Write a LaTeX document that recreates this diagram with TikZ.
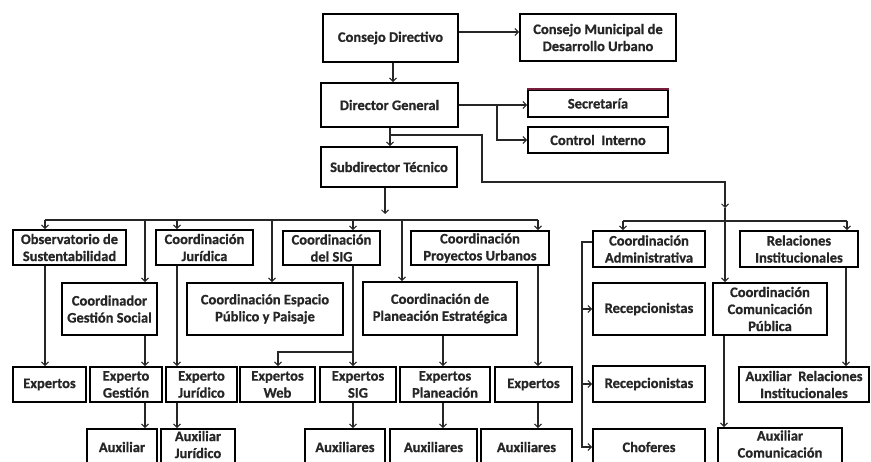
\documentclass[tikz,border=0pt]{standalone}
\usepackage{fontspec}
\setmainfont{Carlito}[BoldFeatures={FakeBold=0.8}]
\usetikzlibrary{arrows.meta}
\tikzset{
  box/.style={draw=black, line width=1.8pt, fill=white, align=center, inner sep=0pt,
    font=\bfseries\fontsize{14.5}{17}\selectfont, text=black!85},
  ln/.style={line width=1.2pt, draw=black!85},
  arr/.style={ln, -{Straight Barb[length=3.5pt,width=7pt,line width=1pt]}},
}
\newcommand{\obox}[6]{\node[box, minimum width={(#4-#2)*1pt}, minimum height={(#5-#3)*1pt}] (#1) at ({(#2+#4)/2},{(#3+#5)/2}) {#6};}
\newcommand{\vlink}[3]{\coordinate (vx) at (#1,0); \draw[arr] (#2.south -| vx) -- (#3.north -| vx);}
\newcommand{\lift}{\rule[-5pt]{0pt}{5pt}}
\begin{document}
\begin{tikzpicture}[x=1pt,y=-1pt]
\useasboundingbox (0,0) rectangle (871,462);
\clip (0,0) rectangle (871,462);
\fill[white] (0,0) rectangle (871,462);

% boxes
\obox{cd}{323}{14}{458}{62}{Consejo Directivo}
\obox{cm}{520}{14}{676}{61}{Consejo Municipal de\\Desarrollo Urbano}
\obox{dg}{321}{83}{458}{127}{Director General}
\obox{sec}{528}{90}{668}{117}{Secretaría}
\obox{ci}{528}{127}{668}{153}{Control\ \ Interno}
\obox{st}{321}{147}{457}{187}{Subdirector Técnico}
\obox{obs}{13}{230}{126}{265}{Observatorio de\\Sustentabilidad}
\obox{cj}{156}{230}{253}{265}{Coordinación\\Jurídica}
\obox{csig}{283}{231}{380}{265}{Coordinación\\del SIG}
\obox{cpu}{411}{231}{549}{265}{Coordinación\\Proyectos Urbanos}
\obox{cadm}{593}{231}{705}{267}{Coordinación\\Administrativa}
\obox{ri}{740}{231}{858}{267}{Relaciones\\Institucionales}
\obox{cgs}{62}{283}{157}{335}{Coordinador\\Gestión Social}
\obox{cep}{187}{283}{343}{335}{Coordinación Espacio\\Público y Paisaje}
\obox{cpe}{363}{282}{517}{335}{Coordinación de\\Planeación Estratégica}
\obox{rec1}{593}{283}{705}{335}{Recepcionistas}
\obox{ccp}{713}{283}{827}{335}{Coordinación\\Comunicación\\Pública}
\obox{exp1}{13}{367}{86}{402}{Expertos}
\obox{eg}{90}{367}{162}{402}{Experto\\Gestión}
\obox{ej}{166}{367}{237}{402}{Experto\\Jurídico}
\obox{ew}{240}{367}{315}{402}{Expertos\\Web}
\obox{esig}{320}{367}{396}{402}{Expertos\\SIG}
\obox{epl}{400}{367}{490}{402}{Expertos\\Planeación}
\obox{exp2}{495}{367}{572}{402}{Expertos}
\obox{rec2}{593}{366}{705}{402}{Recepcionistas}
\obox{ari}{739}{367}{869}{402}{Auxiliar\ \ Relaciones\\Institucionales}
\obox{aux}{87}{429}{157}{465}{Auxiliar}
\obox{auxj}{161}{429}{235}{465}{Auxiliar\\Jurídico\lift}
\obox{aux1}{305}{429}{385}{465}{Auxiliares}
\obox{aux2}{390}{429}{477}{465}{Auxiliares}
\obox{aux3}{481}{429}{572}{465}{Auxiliares}
\obox{chof}{593}{429}{705}{465}{Choferes}
\obox{auxc}{718}{428}{842}{465}{Auxiliar\\Comunicación\lift}

\draw[line width=1.8pt, draw={rgb,255:red,120;green,30;blue,60}] (sec.north west) -- (sec.north east);

% top connectors
\coordinate (cdm) at (0,32);
\draw[arr] (cd.east |- cdm) -- (cm.west |- cdm);
\vlink{393}{cd}{dg}
\vlink{390}{dg}{st}
\draw[arr] (dg.east) -- (sec.west |- dg.east);
\coordinate (sb) at (497,105);
\draw[arr] (sb) |- (ci.west);

% bus to the right group
\coordinate (bus1) at (390,135);
\coordinate (bus2) at (482,182);
\coordinate (bus3) at (725,208);
\draw[arr] (bus1) -| (bus2) -| (bus3);

% left bar
\coordinate (lbL) at (45,220);
\coordinate (lbR) at (538,220);
\coordinate (stx) at (385,0);
\coordinate (stend) at (385,214);
\draw[arr] (st.south -| stx) -- (stend);
\draw[ln] (lbL) -- (lbR);
\foreach \xx/\nn in {45/obs,145/cgs,177/cj,272/cep,353/csig,402/cpe,538/cpu}{
  \coordinate (tx) at (\xx,220);
  \draw[arr] (tx) -- (\nn.north -| tx);
}

% right bar
\coordinate (rbL) at (623,221);
\coordinate (rbR) at (847,221);
\draw[ln] (rbL) -- (rbR);
\foreach \xx/\nn in {623/cadm,725/ccp,847/ri}{
  \coordinate (tx) at (\xx,221);
  \draw[arr] (tx) -- (\nn.north -| tx);
}
\coordinate (rtop) at (725,208);
\draw[ln] (rtop) -- (725,221);

% vertical links
\vlink{45}{obs}{exp1}
\vlink{177}{cj}{ej}
\vlink{145}{cgs}{eg}
\vlink{145}{eg}{aux}
\vlink{177}{ej}{auxj}
\vlink{353}{csig}{esig}
\vlink{443}{cpe}{epl}
\vlink{538}{cpu}{exp2}
\vlink{353}{esig}{aux1}
\vlink{443}{epl}{aux2}
\vlink{538}{exp2}{aux3}
\vlink{724}{ccp}{auxc}
\vlink{846}{ri}{ari}

% SIG branch to Web
\coordinate (sg1) at (353,352);
\coordinate (sg2) at (278,0);
\draw[arr] (sg1) -| (ew.north -| sg2);

% administrative side line
\coordinate (ca) at (582,242);
\draw[arr] (cadm.west |- ca) -- (ca) |- (chof.west);
\draw[arr] (ca |- rec1.west) -- (rec1.west);
\draw[arr] (ca |- rec2.west) -- (rec2.west);
\end{tikzpicture}
\end{document}
